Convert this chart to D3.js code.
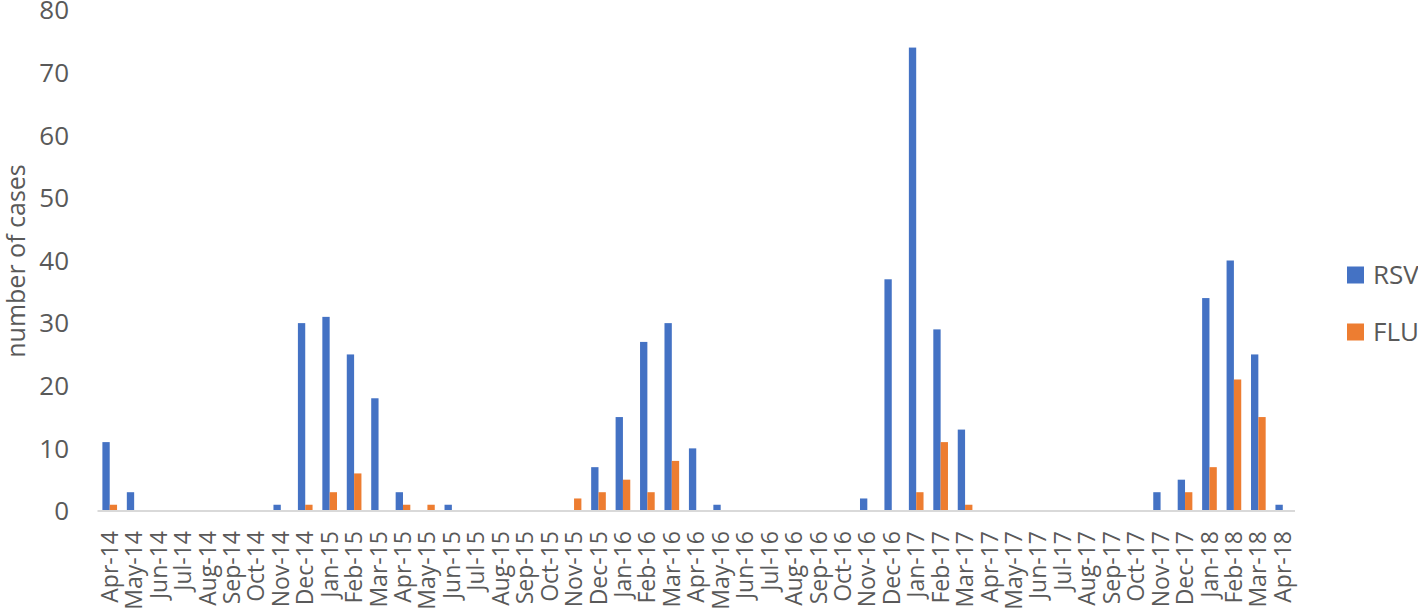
<!DOCTYPE html>
<html>
<head>
<meta charset="utf-8">
<script src="https://cdn.jsdelivr.net/npm/d3@7"></script>
<style>
  body { margin: 0; background: #fff; }
  text { font-family: "Open Sans", "Noto Sans", sans-serif; fill: #595959; }
</style>
</head>
<body>
<div id="chart"></div>
<script>
// months Apr-14 .. Apr-18
const months = ['Apr-14','May-14','Jun-14','Jul-14','Aug-14','Sep-14','Oct-14','Nov-14','Dec-14',
  'Jan-15','Feb-15','Mar-15','Apr-15','May-15','Jun-15','Jul-15','Aug-15','Sep-15','Oct-15','Nov-15','Dec-15',
  'Jan-16','Feb-16','Mar-16','Apr-16','May-16','Jun-16','Jul-16','Aug-16','Sep-16','Oct-16','Nov-16','Dec-16',
  'Jan-17','Feb-17','Mar-17','Apr-17','May-17','Jun-17','Jul-17','Aug-17','Sep-17','Oct-17','Nov-17','Dec-17',
  'Jan-18','Feb-18','Mar-18','Apr-18'];

const rsv = [11,3,0,0,0,0,0,1,30,
  31,25,18,3,0,1,0,0,0,0,0,7,
  15,27,30,10,1,0,0,0,0,0,2,37,
  74,29,13,0,0,0,0,0,0,0,3,5,
  34,40,25,1];

const flu = [1,0,0,0,0,0,0,0,1,
  3,6,0,1,1,0,0,0,0,0,2,3,
  5,3,8,0,0,0,0,0,0,0,0,0,
  3,11,1,0,0,0,0,0,0,0,0,3,
  7,21,15,0];

const seriesNames = ['RSV', 'FLU'];
const colors = ['#4472C4', '#ED7D31'];
const yTicks = [0,10,20,30,40,50,60,70,80];

const width = 1418, height = 610;
const svg = d3.select('#chart').append('svg')
  .attr('width', width)
  .attr('height', height);

const x0 = d3.scaleBand()
  .domain(months)
  .range([97.5, 1295]);

const x1 = d3.scaleBand()
  .domain(seriesNames)
  .range([0, x0.bandwidth()])
  .paddingInner(0)
  .paddingOuter(0.667);

const y = d3.scaleLinear()
  .domain([0, 80])
  .range([511, 10]);

const color = d3.scaleOrdinal().domain(seriesNames).range(colors);

// bars
const rows = months.map((m, i) => ({ month: m, values: [rsv[i], flu[i]] }));

const groups = svg.selectAll('g.month')
  .data(rows)
  .enter()
  .append('g')
  .attr('class', 'month')
  .attr('transform', d => `translate(${x0(d.month)},0)`);

groups.selectAll('rect')
  .data(d => seriesNames.map((s, k) => ({ key: s, value: d.values[k] })))
  .enter()
  .append('rect')
  .attr('x', d => x1(d.key))
  .attr('y', d => y(d.value))
  .attr('width', x1.bandwidth())
  .attr('height', d => y(0) - y(d.value))
  .attr('fill', d => color(d.key));

// x axis line
svg.append('line')
  .attr('x1', x0.range()[0]).attr('x2', x0.range()[1])
  .attr('y1', y(0)).attr('y2', y(0))
  .attr('stroke', '#d9d9d9')
  .attr('stroke-width', 2);

// x labels
svg.append('g')
  .selectAll('text')
  .data(months)
  .enter()
  .append('text')
  .attr('transform', d => `translate(${x0(d) + x0.bandwidth() / 2},531) rotate(-90)`)
  .attr('text-anchor', 'end')
  .attr('dy', '0.35em')
  .style('font-size', '23px')
  .text(d => d);

// y tick labels
svg.append('g')
  .selectAll('text')
  .data(yTicks)
  .enter()
  .append('text')
  .attr('x', 69)
  .attr('y', d => y(d))
  .attr('dy', '0.36em')
  .attr('text-anchor', 'end')
  .style('font-size', '26px')
  .text(d => d);

// y title
svg.append('text')
  .attr('transform', 'translate(16,261) rotate(-90)')
  .attr('text-anchor', 'middle')
  .attr('dy', '0.35em')
  .style('font-size', '25px')
  .text('number of cases');

// legend
const legend = svg.append('g')
  .selectAll('g')
  .data(seriesNames)
  .enter()
  .append('g')
  .attr('transform', (d, i) => `translate(1347,${275 + i * 57})`);

legend.append('rect')
  .attr('x', 0).attr('y', -8.5)
  .attr('width', 17).attr('height', 17)
  .attr('fill', d => color(d));

legend.append('text')
  .attr('x', 26)
  .attr('dy', '0.36em')
  .style('font-size', '26px')
  .text(d => d);
</script>
</body>
</html>
